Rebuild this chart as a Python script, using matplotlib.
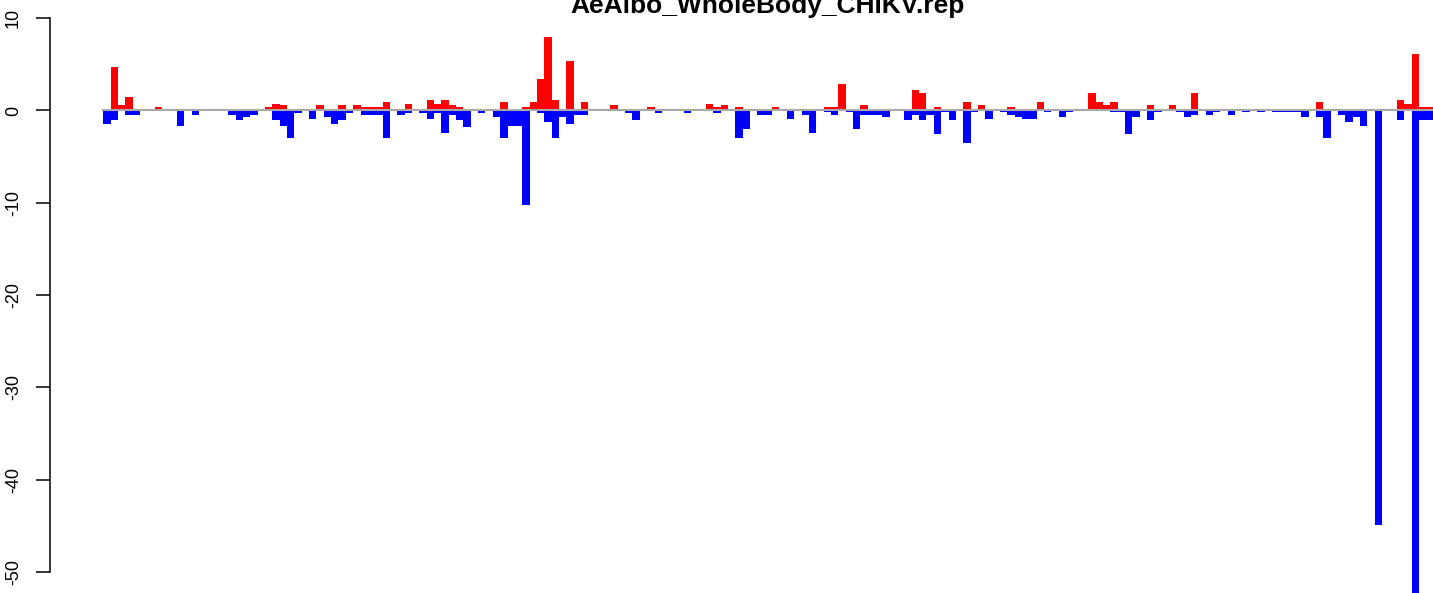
import numpy as np
import matplotlib
matplotlib.use("Agg")
import matplotlib.pyplot as plt

plt.rcParams['font.family'] = ['Liberation Sans', 'DejaVu Sans']
plt.rcParams['axes.unicode_minus'] = False

title = "AeAlbo_WholeBody_CHIKV.rep"

# positive part of each position (red)
up = [0, 4.71, 0.6, 1.46, 0, 0, 0, 0.38, 0, 0,
      0, 0.16, 0, 0, 0, 0, 0, 0, 0.16, 0,
      0, 0, 0.38, 0.7, 0.6, 0, 0, 0, 0, 0.6,
      0, 0, 0.6, 0, 0.6, 0.38, 0.38, 0.38, 0.92, 0,
      0, 0.7, 0, 0, 1.14, 0.7, 1.14, 0.6, 0.38, 0,
      0, 0, 0, 0, 0.92, 0, 0, 0.38, 0.92, 3.41,
      7.96, 1.14, 0.16, 5.36, 0, 0.92, 0, 0, 0, 0.6,
      0, 0.16, 0, 0, 0.38, 0, 0, 0, 0, 0,
      0, 0, 0.7, 0.38, 0.6, 0.16, 0.38, 0, 0, 0.16,
      0.16, 0.38, 0, 0, 0, 0, 0, 0, 0.38, 0.38,
      2.87, 0, 0.16, 0.6, 0, 0, 0, 0, 0, 0,
      2.2, 1.9, 0, 0.38, 0.16, 0, 0, 0.92, 0, 0.6,
      0.16, 0.16, 0.16, 0.38, 0.16, 0.16, 0, 0.92, 0, 0,
      0, 0, 0, 0.16, 1.9, 0.92, 0.6, 0.92, 0, 0,
      0, 0.16, 0.6, 0.16, 0.16, 0.6, 0, 0.16, 1.9, 0,
      0, 0, 0.16, 0, 0.16, 0, 0, 0.16, 0.16, 0,
      0, 0.16, 0, 0, 0, 0.92, 0.16, 0, 0, 0,
      0.16, 0, 0, 0, 0, 0, 1.14, 0.7, 6.1, 0.38,
      0.38]

# negative part of each position (blue)
down = [-1.44, -1.02, 0, -0.47, -0.47, 0, 0, 0, 0, 0,
        -1.66, 0, -0.47, 0, 0, 0, 0, -0.47, -1.02, -0.68,
        -0.47, 0, 0, -1.02, -1.66, -2.96, -0.26, 0, -0.9, 0,
        -0.68, -1.44, -1.02, -0.26, 0, -0.47, -0.47, -0.47, -2.96, 0,
        -0.47, -0.26, 0, -0.26, -0.9, -0.26, -2.44, -0.47, -1.02, -1.79,
        0, -0.26, 0, -0.68, -2.96, -1.68, -1.68, -10.23, 0, -0.26,
        -1.25, -2.96, -0.68, -1.44, -0.47, -0.47, 0, 0, 0, 0,
        0, -0.26, -1.02, 0, 0, -0.26, 0, 0, 0, -0.26,
        0, 0, 0, -0.26, 0, 0, -2.96, -2.0, 0, -0.47,
        -0.47, 0, 0, -0.88, 0, -0.45, -2.4, 0, -0.2, -0.45,
        0, -0.2, -2.0, -0.45, -0.45, -0.45, -0.66, 0, 0, -1.0,
        -0.45, -1.0, -0.45, -2.5, -0.2, -1.0, 0, -3.5, -0.2, 0,
        -0.9, 0, -0.2, -0.45, -0.66, -0.88, -0.88, 0, -0.2, 0,
        -0.66, -0.2, 0, 0, 0, 0, 0, -0.2, -0.2, -2.55,
        -0.66, 0, -1.0, -0.2, 0, 0, -0.2, -0.66, -0.45, 0,
        -0.45, -0.2, 0, -0.45, 0, -0.2, 0, -0.2, 0, -0.2,
        -0.2, -0.2, -0.2, -0.66, 0, -0.66, -3.0, 0, -0.45, -1.2,
        -0.66, -1.65, 0, -44.9, 0, 0, -1.0, 0, -52.5, -1.0,
        -1.0]

y_ticks = [10, 0, -10, -20, -30, -40, -50]

n = len(up)
x = np.arange(n)

W, H = 1433, 593
fig = plt.figure(figsize=(W / 100, H / 100), dpi=100)

# plot region as in R: bars span [0, n], 4% padding each side
left_px, right_px = 50.1, 1486.8
top_px, bot_px = 14.75, 615.6
ax = fig.add_axes([left_px / W, (H - bot_px) / H,
                   (right_px - left_px) / W, (bot_px - top_px) / H])
ax.set_xlim(-0.04 * n, 1.04 * n)
ax.set_ylim(-54.71, 10.37)

ax.bar(x, up, width=1, align='edge', color='#FF0000', linewidth=0)
ax.bar(x, down, width=1, align='edge', color='#0000FF', linewidth=0)
ax.plot([0, n], [0, 0], color='#A9A9A9', linewidth=1.5, zorder=3)

for s in ['top', 'right', 'bottom']:
    ax.spines[s].set_visible(False)
ax.spines['left'].set_bounds(min(y_ticks), max(y_ticks))
ax.spines['left'].set_linewidth(1.1)
ax.set_xticks([])
ax.set_yticks(y_ticks)
ax.tick_params(axis='y', length=9.9, width=1.1, pad=10.5, labelsize=13,
               labelrotation=90)
for lab in ax.get_yticklabels():
    lab.set_verticalalignment('center')

fig.text(768 / W, 1 - 13 / H, title, ha='center', va='baseline',
         fontsize=19, fontweight='bold')

fig.savefig("out.png", dpi=100)
